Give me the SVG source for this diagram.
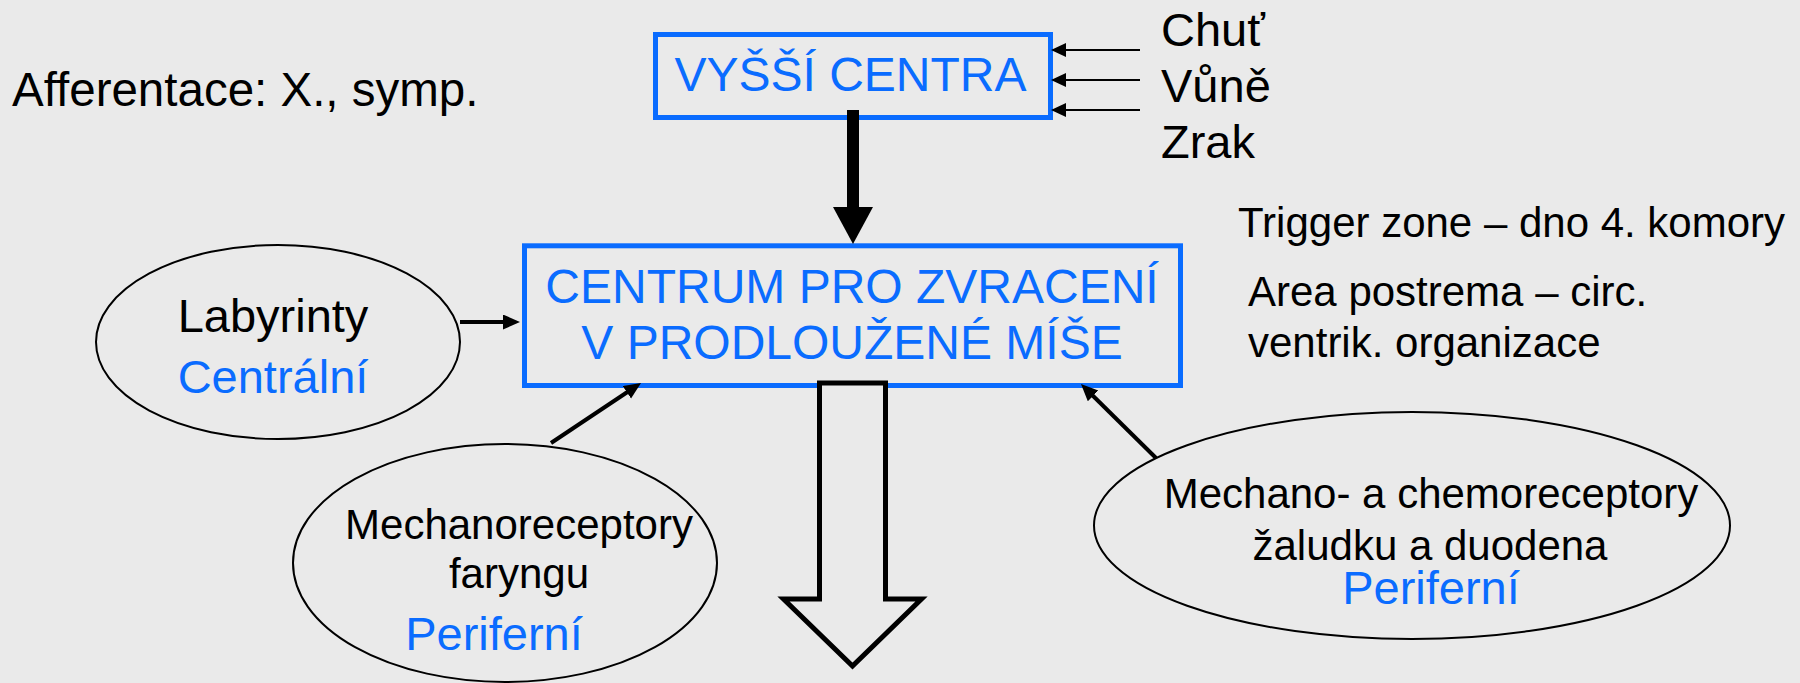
<svg xmlns="http://www.w3.org/2000/svg" width="1800" height="683" viewBox="0 0 1800 683">
<style>
text{font-family:"Liberation Sans",Arial,sans-serif;fill:#000}
.blue{fill:#0a6cff}
.box{fill:none;stroke:#0a6cff;stroke-width:5}
.ell{fill:none;stroke:#000;stroke-width:2}
.f48{font-size:48px}
.f47{font-size:47px}
.f42{font-size:42px}
.mid{text-anchor:middle}
</style>
<defs>
<marker id="ahBig" markerUnits="userSpaceOnUse" markerWidth="18" markerHeight="16" refX="7" refY="7.5" orient="auto">
<path d="M0,0 L17,7.5 L0,15 z" fill="#000"/>
</marker>
<marker id="ahSmall" markerUnits="userSpaceOnUse" markerWidth="17" markerHeight="15" refX="7" refY="7" orient="auto">
<path d="M0,0 L15,7 L0,14 z" fill="#000"/>
</marker>
</defs>
<rect x="0" y="0" width="1800" height="683" fill="#eaeaea"/>

<g id="afferentace"><text x="12" y="106" style="font-size:47.5px">Afferentace: X., symp.</text></g>

<g id="vyssi-centra">
<rect class="box" x="655.5" y="34.5" width="395" height="83"/>
<text class="f48 blue mid" x="850.5" y="91">VYŠŠÍ CENTRA</text>
</g>

<g id="smysly">
<text class="f47" x="1161" y="45.5">Chuť</text>
<text class="f47" x="1161" y="102">Vůně</text>
<text class="f47" x="1161" y="158">Zrak</text>
</g>

<g id="trigger">
<text class="f42" x="1238" y="237">Trigger zone – dno 4. komory</text>
<text class="f42" x="1248" y="306">Area postrema – circ.</text>
<text class="f42" x="1248" y="357">ventrik. organizace</text>
</g>

<g id="centrum">
<rect class="box" x="524.5" y="245.8" width="656" height="139.7"/>
<text class="f48 blue mid" x="852" y="302.5">CENTRUM PRO ZVRACENÍ</text>
<text class="f48 blue mid" x="852" y="359">V PRODLOUŽENÉ MÍŠE</text>
</g>

<g id="labyrinty">
<ellipse class="ell" cx="278" cy="342" rx="182" ry="97"/>
<text class="f47 mid" x="273" y="332">Labyrinty</text>
<text class="f47 blue mid" x="273" y="393">Centrální</text>
</g>

<g id="faryng">
<ellipse class="ell" cx="505" cy="563" rx="212" ry="119"/>
<text class="f42 mid" x="519" y="539">Mechanoreceptory</text>
<text class="f42 mid" x="519" y="588">faryngu</text>
<text class="f47 blue mid" x="494" y="650">Periferní</text>
</g>

<g id="zaludek">
<ellipse class="ell" cx="1412" cy="525.5" rx="318" ry="113.5"/>
<text class="f42 mid" x="1431" y="508">Mechano- a chemoreceptory</text>
<text class="f42 mid" x="1430" y="559.5">žaludku a duodena</text>
<text class="f47 blue mid" x="1431" y="603.5">Periferní</text>
</g>

<g id="connectors" stroke="#000" fill="none">
<line x1="1140" y1="50" x2="1059" y2="50" stroke-width="2" marker-end="url(#ahSmall)"/>
<line x1="1140" y1="80" x2="1059" y2="80" stroke-width="2" marker-end="url(#ahSmall)"/>
<line x1="1140" y1="110" x2="1059" y2="110" stroke-width="2" marker-end="url(#ahSmall)"/>
<line x1="853" y1="110" x2="853" y2="208" stroke-width="12"/>
<polygon points="833,207 873,207 853,244" fill="#000" stroke="none"/>
<line x1="460" y1="322" x2="510" y2="322" stroke-width="4" marker-end="url(#ahBig)"/>
<line x1="551" y1="443" x2="632.7" y2="388.5" stroke-width="4" marker-end="url(#ahBig)"/>
<line x1="1156" y1="458" x2="1088.1" y2="391" stroke-width="4" marker-end="url(#ahBig)"/>
<polygon points="819.5,383 885.5,383 885.5,599 921.5,599 852.5,666 783.5,599 819.5,599" fill="#eaeaea" stroke-width="5" stroke-linejoin="miter"/>
</g>
</svg>
